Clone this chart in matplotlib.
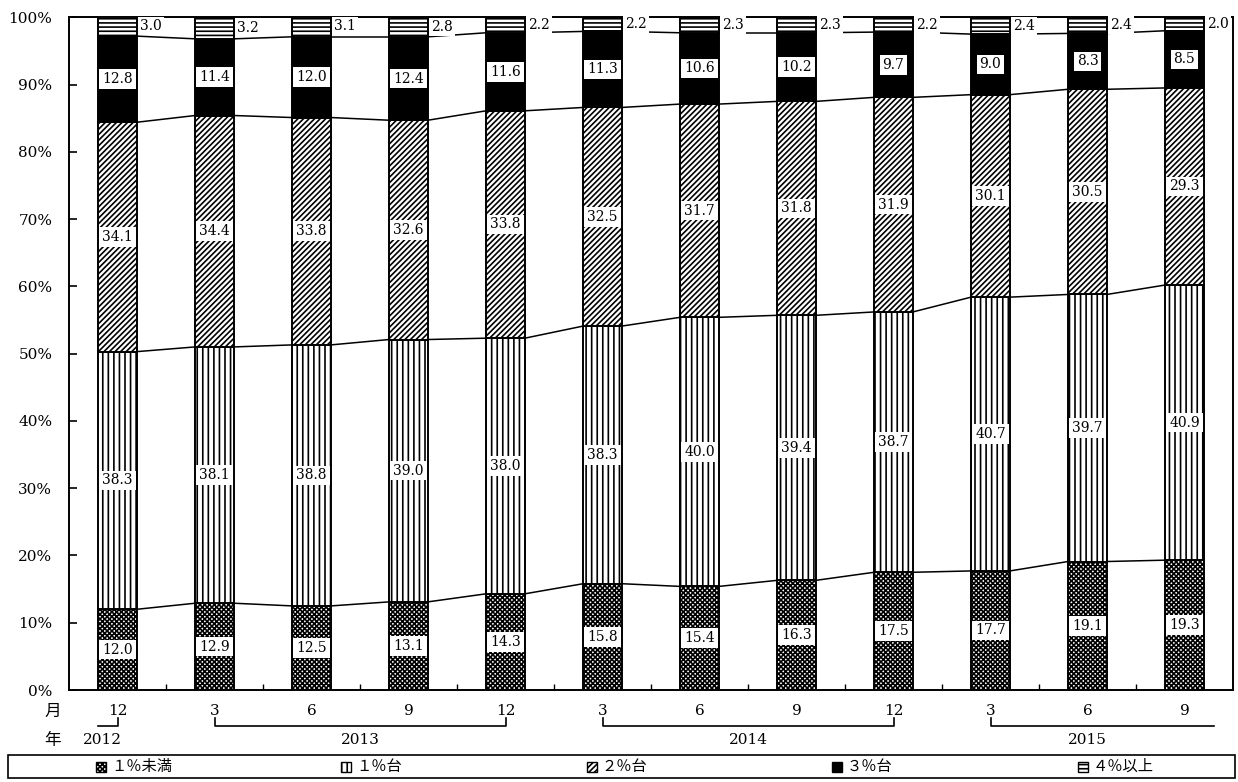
import numpy as np
import matplotlib
matplotlib.use('Agg')
import matplotlib.pyplot as plt
from matplotlib.patches import Rectangle

# data
months = ['12', '3', '6', '9', '12', '3', '6', '9', '12', '3', '6', '9']
year_labels = ['2012', '2013', '2014', '2015']
year_spans = [(0, 0), (1, 4), (5, 8), (9, 11)]

series_names = ['１％未満', '１％台', '２％台', '３％台', '４％以上']
under_1 = [12.0, 12.9, 12.5, 13.1, 14.3, 15.8, 15.4, 16.3, 17.5, 17.7, 19.1, 19.3]
pct_1 = [38.3, 38.1, 38.8, 39.0, 38.0, 38.3, 40.0, 39.4, 38.7, 40.7, 39.7, 40.9]
pct_2 = [34.1, 34.4, 33.8, 32.6, 33.8, 32.5, 31.7, 31.8, 31.9, 30.1, 30.5, 29.3]
pct_3 = [12.8, 11.4, 12.0, 12.4, 11.6, 11.3, 10.6, 10.2, 9.7, 9.0, 8.3, 8.5]
over_4 = [3.0, 3.2, 3.1, 2.8, 2.2, 2.2, 2.3, 2.3, 2.2, 2.4, 2.4, 2.0]

series = [under_1, pct_1, pct_2, pct_3, over_4]
hatches = ['xxxxxxx', '|||', '//////', '', '----']
faces = ['white', 'white', 'white', 'black', 'white']

plt.rcParams['font.family'] = ['DejaVu Serif', 'Noto Sans CJK JP']
plt.rcParams['hatch.linewidth'] = 1.2

W, H = 1238, 782
fig = plt.figure(figsize=(W / 100, H / 100), dpi=100)
ax_l, ax_r, ax_t, ax_b = 69, 1233, 17.3, 690
ax = fig.add_axes([ax_l / W, 1 - ax_b / H, (ax_r - ax_l) / W, (ax_b - ax_t) / H])


def ay(py):
    # figure pixel row -> axes fraction
    return (ax_b - py) / (ax_b - ax_t)


x = np.arange(len(months))
w = 0.40
bottom = np.zeros(len(months))
tops = []
for k, vals in enumerate(series):
    vals = np.array(vals)
    ax.bar(x, vals, w, bottom=bottom, color=faces[k], edgecolor='black',
           linewidth=1.4, hatch=hatches[k], zorder=2)
    for i, v in enumerate(vals):
        yc = bottom[i] + v / 2
        if k < 4:
            ax.text(x[i], yc, f'{v:.1f}', ha='center', va='center', fontsize=10,
                    zorder=4, bbox=dict(boxstyle='square,pad=0.2', fc='white', ec='none'))
        else:
            ax.text(x[i] + w / 2 + 0.03, yc, f'{v:.1f}', ha='left', va='center',
                    fontsize=10, zorder=4,
                    bbox=dict(boxstyle='square,pad=0.15', fc='white', ec='none'))
    bottom = bottom + vals
    if k < 4:
        tops.append(bottom.copy())

# connecting lines between neighbouring bars
for cum in tops:
    for i in range(len(months) - 1):
        ax.plot([x[i] + w / 2, x[i + 1] - w / 2], [cum[i], cum[i + 1]],
                color='black', linewidth=1.1, zorder=3)

ax.set_xlim(-0.5, len(months) - 0.5)
ax.set_ylim(0, 100)
ax.set_yticks(np.arange(0, 101, 10))
ax.set_yticklabels([f'{t}%' for t in range(0, 101, 10)])
ax.set_xticks(np.arange(0.5, len(months) - 1, 1))
ax.tick_params(axis='y', direction='in', length=6, width=1.2, pad=12, labelsize=11)
ax.tick_params(axis='x', direction='in', length=4, width=1.0, labelbottom=False)
for s in ax.spines.values():
    s.set_linewidth(1.4)

tr = ax.get_xaxis_transform()

# month row and year row
fig.text(53 / W, 1 - 711 / H, '月', ha='center', va='center', fontsize=12)
fig.text(53 / W, 1 - 740 / H, '年', ha='center', va='center', fontsize=12)
for i, m in enumerate(months):
    ax.text(x[i], ay(711), m, transform=tr, ha='center', va='center',
            fontsize=11, clip_on=False)

yb_top, yb_bot = ay(718), ay(726)
for j, (a, b) in enumerate(year_spans):
    if a == b:
        ax.plot([a - 0.2, a, a], [yb_bot, yb_bot, yb_top], transform=tr,
                color='black', linewidth=1.2, clip_on=False)
        xt = a - 0.16
    elif j == len(year_spans) - 1:
        ax.plot([a, a, b + 0.3], [yb_top, yb_bot, yb_bot], transform=tr,
                color='black', linewidth=1.2, clip_on=False)
        xt = (a + b) / 2
    else:
        ax.plot([a, a, b, b], [yb_top, yb_bot, yb_bot, yb_top], transform=tr,
                color='black', linewidth=1.2, clip_on=False)
        xt = (a + b) / 2
    ax.text(xt, ay(740), year_labels[j], transform=tr, ha='center', va='center',
            fontsize=11, clip_on=False)

# legend box along the bottom
fig.add_artist(Rectangle((8 / W, 1 - 778 / H), (1235 - 8) / W, (778 - 755) / H,
                         transform=fig.transFigure, fill=False, edgecolor='black',
                         linewidth=1.2))
col_w = (1235 - 8) / len(series_names)
for k, name in enumerate(series_names):
    mx = 8 + k * col_w + 88
    fig.add_artist(Rectangle((mx / W, 1 - 772 / H), 10 / W, 10 / H,
                             transform=fig.transFigure, facecolor=faces[k],
                             edgecolor='black', linewidth=1.0, hatch=hatches[k]))
    fig.text((mx + 15) / W, 1 - 767 / H, name, ha='left', va='center', fontsize=11)

fig.savefig('out.png', dpi=100)
